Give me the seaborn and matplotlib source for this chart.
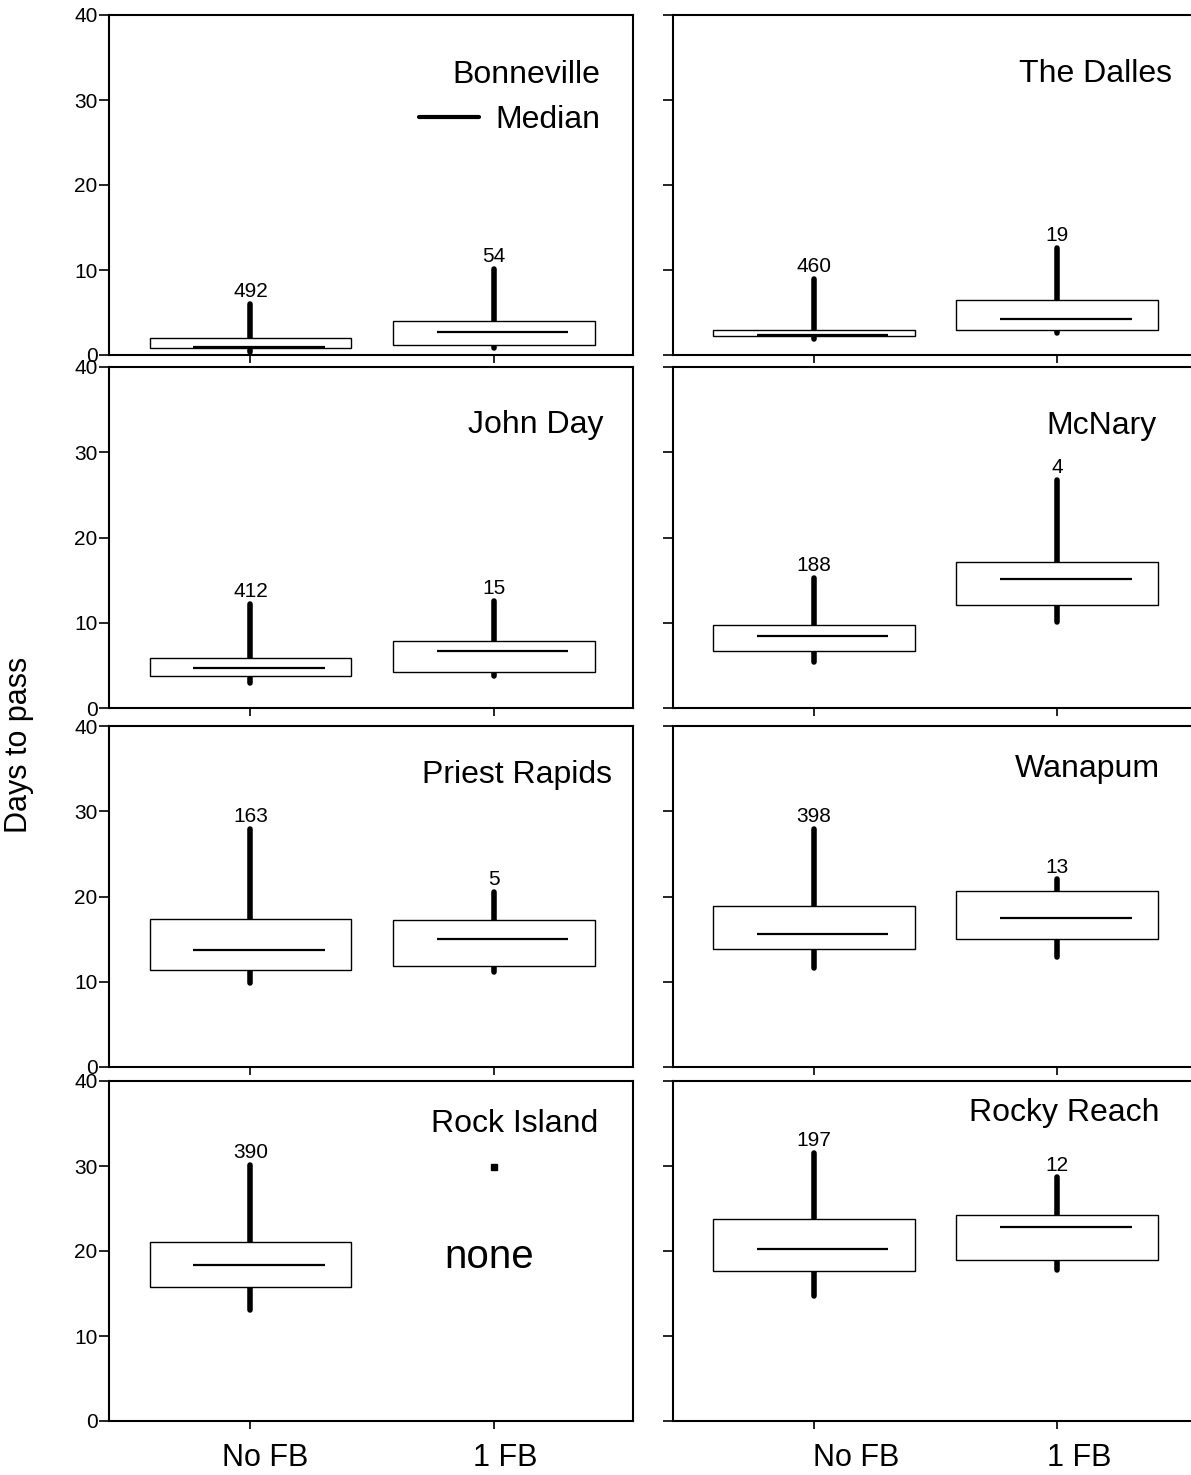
import numpy as np
import pandas as pd
import matplotlib
matplotlib.use("Agg")
import matplotlib.pyplot as plt
import matplotlib.transforms as mtransforms
from matplotlib.lines import Line2D
import seaborn as sns

# ---------------------------------------------------------------- data
sites = ["Bonneville", "The Dalles", "John Day", "McNary",
         "Priest Rapids", "Wanapum", "Rock Island", "Rocky Reach"]
groups = ["No FB", "1 FB"]

# Fish with no fallback: whisker low, box low (Q1), median, box high (Q3), whisker high
nofb_low = [0.35, 1.9, 2.9, 5.35, 9.8, 11.6, 13.1, 14.7]
nofb_q1 = [0.85, 2.25, 3.8, 6.7, 11.35, 13.8, 15.8, 17.7]
nofb_med = [0.9, 2.4, 4.7, 8.4, 13.7, 15.6, 18.4, 20.2]
nofb_q3 = [2.0, 3.0, 5.9, 9.7, 17.35, 18.9, 21.1, 23.8]
nofb_high = [6.0, 8.9, 12.2, 15.2, 27.9, 27.9, 30.1, 31.5]
nofb_n = [492, 460, 412, 188, 163, 398, 390, 197]

# Fish with one fallback (none at Rock Island)
fb1_low = [0.8, 2.6, 3.7, 10.05, 11.2, 12.9, np.nan, 17.8]
fb1_q1 = [1.2, 2.9, 4.2, 12.1, 11.9, 15.0, np.nan, 19.0]
fb1_med = [2.7, 4.2, 6.7, 15.1, 15.0, 17.45, np.nan, 22.8]
fb1_q3 = [4.0, 6.5, 7.9, 17.1, 17.2, 20.7, np.nan, 24.25]
fb1_high = [10.1, 12.6, 12.6, 26.8, 20.5, 22.0, np.nan, 28.65]
fb1_n = [54, 19, 15, 4, 5, 13, None, 12]

# single observation shown for the empty Rock Island group
rock_island_fb1_point = 29.9

y_ticks = [0, 10, 20, 30, 40]

# ---------------------------------------------------------------- style
sns.set_style("ticks")
plt.rcParams["font.family"] = ["Liberation Sans", "DejaVu Sans"]
plt.rcParams["text.color"] = "black"
plt.rcParams["axes.labelcolor"] = "black"
plt.rcParams["xtick.color"] = "black"
plt.rcParams["ytick.color"] = "black"
plt.rcParams["axes.edgecolor"] = "black"
plt.rcParams["axes.linewidth"] = 1.5

W, H = 1191, 1475
fig = plt.figure(figsize=(W / 100, H / 100), dpi=100)

col_left = [109.4, 673.0]
ax_width = 524.0
rows_px = [(15, 355), (367, 708), (726, 1067), (1081, 1421)]

# panel title anchors (axes fraction, right-aligned, baseline)
title_anchor = {
    "Bonneville": (0.937, 0.800),
    "The Dalles": (0.952, 0.802),
    "John Day": (0.943, 0.806),
    "McNary": (0.922, 0.804),
    "Priest Rapids": (0.960, 0.833),
    "Wanapum": (0.929, 0.851),
    "Rock Island": (0.933, 0.850),
    "Rocky Reach": (0.929, 0.883),
}
# horizontal shift (pixels) of the bottom category labels
label_shift = [[15, 11], [42, 22]]

median_left, median_right = -0.235, 0.305


def five_numbers(lo, q1, med, q3, hi):
    return [lo, q1, med, q3, hi]


for i, site in enumerate(sites):
    r, c = divmod(i, 2)
    top, bot = rows_px[r]
    ax = fig.add_axes([col_left[c] / W, 1 - bot / H, ax_width / W, (bot - top) / H])

    records = []
    summaries = {
        "No FB": (nofb_low[i], nofb_q1[i], nofb_med[i], nofb_q3[i], nofb_high[i]),
        "1 FB": (fb1_low[i], fb1_q1[i], fb1_med[i], fb1_q3[i], fb1_high[i]),
    }
    for g, s in summaries.items():
        if np.isnan(s[0]):
            continue
        for v in five_numbers(*s):
            records.append({"group": g, "days": v})
    df = pd.DataFrame(records)

    sns.boxplot(
        data=df, x="group", y="days", order=groups, ax=ax,
        width=0.83, whis=np.inf, showcaps=False, showfliers=False,
        color="white", linecolor="black", linewidth=1.0, fill=True,
        medianprops={"visible": False},
        whiskerprops={"linewidth": 4.0, "solid_capstyle": "round"},
        boxprops={"zorder": 3},
    )

    # medians
    for gi, g in enumerate(groups):
        med = summaries[g][2]
        if np.isnan(med):
            continue
        ax.hlines(med, gi + median_left, gi + median_right, color="black",
                  linewidth=1.6, zorder=4)

    # sample sizes
    for gi, n in enumerate([nofb_n[i], fb1_n[i]]):
        if n is None:
            continue
        hi = [nofb_high[i], fb1_high[i]][gi]
        ax.annotate(str(n), (gi, hi), xytext=(0, 5), textcoords="offset points",
                    ha="center", va="baseline", fontsize=15)

    if site == "Rock Island":
        ax.plot([1], [rock_island_fb1_point], marker="s", markersize=4,
                color="black", linestyle="none")
        ax.text(0.98, 18.0, "none", ha="center", va="baseline", fontsize=29)

    tx, ty = title_anchor[site]
    ax.text(tx, ty, site, transform=ax.transAxes, ha="right", va="baseline",
            fontsize=23)

    if site == "Bonneville":
        ax.legend(handles=[Line2D([], [], color="black", linewidth=3)],
                  labels=["Median"], loc="center right",
                  bbox_to_anchor=(0.937, 0.691), frameon=False,
                  borderpad=0, borderaxespad=0, handlelength=1.9,
                  handletextpad=0.5, fontsize=23)

    ax.set_xlim(-0.58, 1.574)
    ax.set_ylim(0, 40)
    ax.set_yticks(y_ticks)
    ax.set_xticks([0, 1])
    ax.set_xlabel("")
    ax.set_ylabel("")
    for sp in ax.spines.values():
        sp.set_visible(True)
        sp.set_color("black")
        sp.set_linewidth(1.5)

    ax.tick_params(axis="y", direction="out", length=7, width=1.2, pad=1.5,
                   labelsize=15, labelleft=(c == 0))
    ax.tick_params(axis="x", direction="out", length=6, width=1.2)
    if r == 3:
        ax.set_xticklabels(groups)
        ax.tick_params(axis="x", labelsize=22, pad=10, labelbottom=True)
        for lbl, dx in zip(ax.get_xticklabels(), label_shift[c]):
            lbl.set_transform(lbl.get_transform()
                              + mtransforms.ScaledTranslation(dx / 100, 0, fig.dpi_scale_trans))
    else:
        ax.tick_params(axis="x", labelbottom=False)

fig.text(19 / W, 0.495, "Days to pass", rotation=90, ha="center", va="center",
         fontsize=22)

fig.savefig("out.png", dpi=100, facecolor="white")
